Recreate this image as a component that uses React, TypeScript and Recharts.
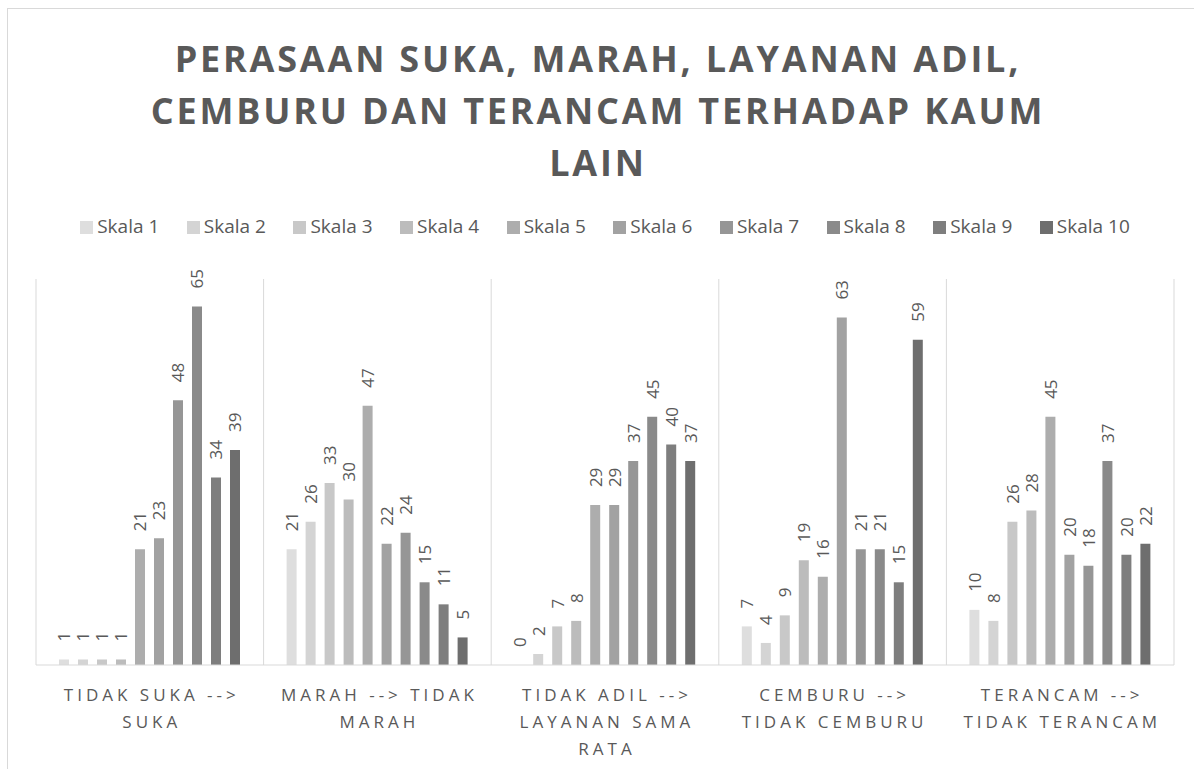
import { BarChart, Bar, XAxis, YAxis, CartesianGrid, Legend, LabelList } from 'recharts'

const categories = [
  'TIDAK SUKA --> SUKA',
  'MARAH --> TIDAK MARAH',
  'TIDAK ADIL --> LAYANAN SAMA RATA',
  'CEMBURU --> TIDAK CEMBURU',
  'TERANCAM --> TIDAK TERANCAM',
]
// how each category label wraps under the axis
const tickLines = [
  ['TIDAK SUKA -->', 'SUKA'],
  ['MARAH --> TIDAK', 'MARAH'],
  ['TIDAK ADIL -->', 'LAYANAN SAMA', 'RATA'],
  ['CEMBURU -->', 'TIDAK CEMBURU'],
  ['TERANCAM -->', 'TIDAK TERANCAM'],
]
const titleLines = [
  'PERASAAN SUKA, MARAH, LAYANAN ADIL,',
  'CEMBURU DAN TERANCAM TERHADAP KAUM',
  'LAIN',
]

const seriesNames = ['Skala 1', 'Skala 2', 'Skala 3', 'Skala 4', 'Skala 5', 'Skala 6', 'Skala 7', 'Skala 8', 'Skala 9', 'Skala 10']
const skala1 = [1, 21, 0, 7, 10]
const skala2 = [1, 26, 2, 4, 8]
const skala3 = [1, 33, 7, 9, 26]
const skala4 = [1, 30, 8, 19, 28]
const skala5 = [21, 47, 29, 16, 45]
const skala6 = [23, 22, 29, 63, 20]
const skala7 = [48, 24, 37, 21, 18]
const skala8 = [65, 15, 45, 21, 37]
const skala9 = [34, 11, 40, 15, 20]
const skala10 = [39, 5, 37, 59, 22]
const seriesValues = [skala1, skala2, skala3, skala4, skala5, skala6, skala7, skala8, skala9, skala10]

const colors = ['#dedede', '#d4d4d4', '#c8c8c8', '#bcbcbc', '#adadad', '#a2a2a2', '#969696', '#8a8a8a', '#7e7e7e', '#6e6e6e']

const data = categories.map((name, i) => {
  const row: Record<string, string | number> = { name }
  seriesNames.forEach((s, j) => { row[s] = seriesValues[j][i] })
  return row
})

const textGrey = '#595959'
const font = "'Open Sans', sans-serif"

function CategoryTick({ x, y, index }: any) {
  const lines = tickLines[index] || []
  return (
    <g>
      {lines.map((l, i) => (
        <text
          key={i}
          x={x + 2}
          y={y + 28 + i * 27}
          textAnchor="middle"
          fill={textGrey}
          fontSize={17}
          letterSpacing={4}
          fontFamily={font}
        >
          {l}
        </text>
      ))}
    </g>
  )
}

function ValueLabel({ x, y, width, value }: any) {
  const cx = Number(x) + Number(width) / 2
  const cy = Number(y) - 18
  return (
    <text
      x={cx}
      y={cy}
      transform={`rotate(-90, ${cx}, ${cy})`}
      textAnchor="start"
      dominantBaseline="central"
      fill={textGrey}
      fontSize={17}
      fontFamily={font}
    >
      {value}
    </text>
  )
}

const labelValue = (entry: any) => {
  const v = Array.isArray(entry.value) ? entry.value[entry.value.length - 1] : entry.value
  return String(v)
}

export default function App() {
  return (
    <div style={{ position: 'fixed', left: 0, top: 0, width: 1194, height: 769, overflow: 'hidden', background: '#fff' }}>
      <div style={{ position: 'absolute', left: 7, top: 8, width: 1300, height: 900, border: '1px solid #d9d9d9' }} />

      <svg width={1194} height={200} style={{ position: 'absolute', left: 0, top: 0 }}>
        {titleLines.map((t, i) => (
          <text
            key={i}
            x={598}
            y={72 + i * 52}
            textAnchor="middle"
            fill={textGrey}
            fontSize={36}
            fontWeight={700}
            letterSpacing={2.8}
            fontFamily={font}
          >
            {t}
          </text>
        ))}
      </svg>

      <div style={{ position: 'absolute', left: 0, top: 0 }}>
        <BarChart
          width={1194}
          height={769}
          data={data}
          margin={{ top: 279, right: 20, bottom: 74, left: 36 }}
          barCategoryGap={23}
          barGap={9}
        >
          <CartesianGrid
            horizontal={false}
            stroke="#d9d9d9"
            verticalCoordinatesGenerator={({ offset }: any) =>
              categories.map((_, i) => offset.left + (i * offset.width) / categories.length).concat(offset.left + offset.width)
            }
          />
          <XAxis
            dataKey="name"
            axisLine={{ stroke: '#d9d9d9' }}
            tickLine={false}
            tick={<CategoryTick />}
            interval={0}
            height={30}
          />
          <YAxis hide domain={[0, 70]} />
          <Legend
            verticalAlign="middle"
            layout="horizontal"
            iconType="square"
            iconSize={13}
            itemSorter={(item: any) => seriesNames.indexOf(item.value)}
            wrapperStyle={{ top: 213, left: 13, width: 1194, fontFamily: font, fontSize: 19 }}
            formatter={(v: string, _e: any, i: number) => (
              <span style={{ color: textGrey, paddingRight: i === seriesNames.length - 1 ? 0 : 17.5 }}>{v}</span>
            )}
          />
          {seriesNames.map((s, j) => (
            <Bar key={s} dataKey={s} fill={colors[j]} minPointSize={0.01} isAnimationActive={false}>
              <LabelList dataKey={s} valueAccessor={labelValue} content={<ValueLabel />} />
            </Bar>
          ))}
        </BarChart>
      </div>
    </div>
  )
}
